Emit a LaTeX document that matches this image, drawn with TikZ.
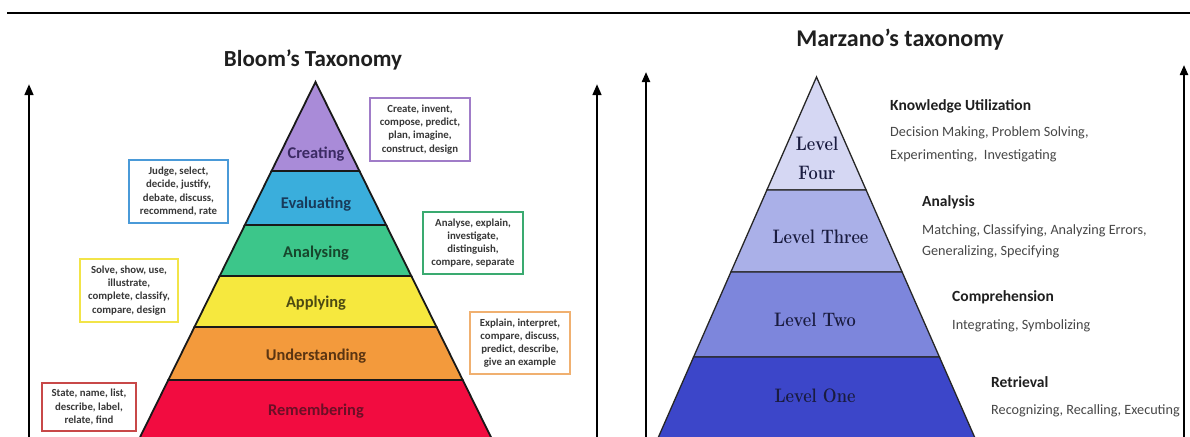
\documentclass[tikz,border=0pt]{standalone}
\usepackage{fontspec}
\newfontfamily\calibri{Carlito}
\usetikzlibrary{arrows.meta}
% condensed bold serif for the level names
\newcommand\lvtext[1]{\scalebox{0.84}[1]{#1}}

% layer colours
\definecolor{creatC}{HTML}{A98BD8}
\definecolor{evalC}{HTML}{3AAEDC}
\definecolor{analC}{HTML}{3CC68A}
\definecolor{applC}{HTML}{F6E83E}
\definecolor{undC}{HTML}{F39A3C}
\definecolor{remC}{HTML}{F20C40}
\definecolor{creatT}{HTML}{3B2A63}
\definecolor{evalT}{HTML}{183A5A}
\definecolor{analT}{HTML}{17452C}
\definecolor{applT}{HTML}{4C4A12}
\definecolor{undT}{HTML}{5B3512}
\definecolor{remT}{HTML}{6B0F26}
% word-box frames
\definecolor{frPurple}{HTML}{A07CC8}
\definecolor{frBlue}{HTML}{4A9AD8}
\definecolor{frGreen}{HTML}{3AAA70}
\definecolor{frYellow}{HTML}{F2E448}
\definecolor{frOrange}{HTML}{F0B070}
\definecolor{frRed}{HTML}{C84848}
% Marzano levels
\definecolor{mzFour}{HTML}{D5D7F3}
\definecolor{mzThree}{HTML}{AAB0E8}
\definecolor{mzTwo}{HTML}{7D86DC}
\definecolor{mzOne}{HTML}{3C46C9}
\definecolor{mzText}{HTML}{1A1C40}

% one trapezoid band of a pyramid: apex x, apex y, slope, top y, bottom y, style
\newcommand\pyrband[6]{%
  \pgfmathsetmacro\pbTL{#1-#3*(#4-#2)}%
  \pgfmathsetmacro\pbTR{#1+#3*(#4-#2)}%
  \pgfmathsetmacro\pbBL{#1-#3*(#5-#2)}%
  \pgfmathsetmacro\pbBR{#1+#3*(#5-#2)}%
  \filldraw[#6] (\pbTL,#4) -- (\pbTR,#4) -- (\pbBR,#5) -- (\pbBL,#5) -- cycle;
}

\tikzset{
  title/.style={font=\calibri\bfseries\fontsize{23}{26}\selectfont, text=black!88, inner sep=0},
  bloomlayer/.style={draw=black!90, line width=1.8pt, line join=miter},
  mzlayer/.style={draw=black!85, line width=1.3pt, line join=miter},
  layerlabel/.style={font=\calibri\bfseries\fontsize{16.4}{19}\selectfont, inner sep=0},
  wordbox/.style={draw=#1, line width=1.4pt, fill=white, align=center, inner sep=0,
    font=\calibri\bfseries\fontsize{10.8}{13.2}\selectfont, text=black!78},
  levellabel/.style={font=\rmfamily\bfseries\fontsize{19.5}{29}\selectfont, text=mzText, align=center, inner sep=0},
  mzhead/.style={font=\calibri\bfseries\fontsize{15.5}{18}\selectfont, text=black!88, anchor=west, inner sep=0},
  mzbody/.style={font=\calibri\fontsize{14.2}{17}\selectfont, text=black!72, anchor=west, inner sep=0},
  bigaxis/.style={line width=2.6pt, -{Triangle[length=11pt,width=8.5pt]}},
  smallaxis/.style={line width=2.1pt, -{Triangle[length=10pt,width=8pt]}},
}

\begin{document}
\begin{tikzpicture}[x=1pt,y=-1pt]
\useasboundingbox (0,0) rectangle (1190,436);
\clip (0,0) rectangle (1190,436);
\fill[white] (0,0) rectangle (1190,436);

% rule along the top
\coordinate (ruleL) at (7,13);
\coordinate (ruleR) at (1190,13);
\draw[line width=1.2pt] (ruleL) -- (ruleR);

% ---------------- Bloom's taxonomy ----------------
\node[title] (bloomTitle) at (313,60) {Bloom’s Taxonomy};

\coordinate (bAxL0) at (29,440);  \coordinate (bAxL1) at (29,84);
\coordinate (bAxR0) at (597,440); \coordinate (bAxR1) at (597,84);
\draw[bigaxis] (bAxL0) -- (bAxL1);
\draw[bigaxis] (bAxR0) -- (bAxR1);

\pyrband{315.5}{82}{0.494}{82}{171}{bloomlayer, fill=creatC}
\pyrband{315.5}{82}{0.494}{171}{225}{bloomlayer, fill=evalC}
\pyrband{315.5}{82}{0.494}{225}{276}{bloomlayer, fill=analC}
\pyrband{315.5}{82}{0.494}{276}{327}{bloomlayer, fill=applC}
\pyrband{315.5}{82}{0.494}{327}{380}{bloomlayer, fill=undC}
\pyrband{315.5}{82}{0.494}{380}{450}{bloomlayer, fill=remC}

\node[layerlabel, text=creatT] (lCreate) at (316,154) {Creating};
\node[layerlabel, text=evalT]  (lEval)   at (316,204) {Evaluating};
\node[layerlabel, text=analT]  (lAnal)   at (316,253) {Analysing};
\node[layerlabel, text=applT]  (lAppl)   at (316,303) {Applying};
\node[layerlabel, text=undT]   (lUnd)    at (316,356) {Understanding};
\node[layerlabel, text=remT]   (lRem)    at (316,411) {Remembering};

\node[wordbox=frPurple, minimum width=100, minimum height=63] (wCreate) at (420,129.5)
  {Create, invent,\\compose, predict,\\plan, imagine,\\construct, design};
\node[wordbox=frBlue, minimum width=99, minimum height=63] (wEval) at (178.5,191.5)
  {Judge, select,\\decide, justify,\\debate, discuss,\\recommend, rate};
\node[wordbox=frGreen, minimum width=100, minimum height=62] (wAnal) at (473,243)
  {Analyse, explain,\\investigate,\\distinguish,\\compare, separate};
\node[wordbox=frYellow, minimum width=98, minimum height=63] (wAppl) at (129,290.5)
  {Solve, show, use,\\illustrate,\\complete, classify,\\compare, design};
\node[wordbox=frOrange, minimum width=100, minimum height=62] (wUnd) at (520,343)
  {Explain, interpret,\\compare, discuss,\\predict, describe,\\give an example};
\node[wordbox=frRed, minimum width=94, minimum height=48] (wRem) at (89,407)
  {State, name, list,\\describe, label,\\relate, find};

% ---------------- Marzano's taxonomy ----------------
\node[title, font=\calibri\bfseries\fontsize{24}{27}\selectfont] (mzTitle) at (900,40) {Marzano’s taxonomy};

\coordinate (mAxL0) at (646,440);  \coordinate (mAxL1) at (646,72);
\coordinate (mAxR0) at (1184,440); \coordinate (mAxR1) at (1184,65);
\draw[smallaxis] (mAxL0) -- (mAxL1);
\draw[smallaxis] (mAxR0) -- (mAxR1);

\pyrband{816.5}{77}{0.439}{77}{190}{mzlayer, fill=mzFour}
\pyrband{816.5}{77}{0.439}{190}{272}{mzlayer, fill=mzThree}
\pyrband{816.5}{77}{0.439}{272}{357}{mzlayer, fill=mzTwo}
\pyrband{816.5}{77}{0.439}{357}{450}{mzlayer, fill=mzOne}

\node[levellabel] (lvFour)  at (817,158) {\lvtext{Level}\\\lvtext{Four}};
\node[levellabel] (lvThree) at (820.5,237) {\lvtext{Level Three}};
\node[levellabel] (lvTwo)   at (815,320) {\lvtext{Level Two}};
\node[levellabel] (lvOne)   at (815,396) {\lvtext{Level One}};

\node[mzhead] (hKU)  at (890,106) {Knowledge Utilization};
\node[mzbody] (bKU1) at (890,133) {Decision Making, Problem Solving,};
\node[mzbody] (bKU2) at (890,156) {Experimenting,\ \ Investigating};

\node[mzhead] (hAn)  at (922,202) {Analysis};
\node[mzbody] (bAn1) at (922,231) {Matching, Classifying, Analyzing Errors,};
\node[mzbody] (bAn2) at (922,252) {Generalizing, Specifying};

\node[mzhead] (hCo)  at (952,297) {Comprehension};
\node[mzbody] (bCo1) at (952,326) {Integrating, Symbolizing};

\node[mzhead] (hRe)  at (991,382) {Retrieval};
\node[mzbody] (bRe1) at (991,411) {Recognizing, Recalling, Executing};
\end{tikzpicture}
\end{document}
